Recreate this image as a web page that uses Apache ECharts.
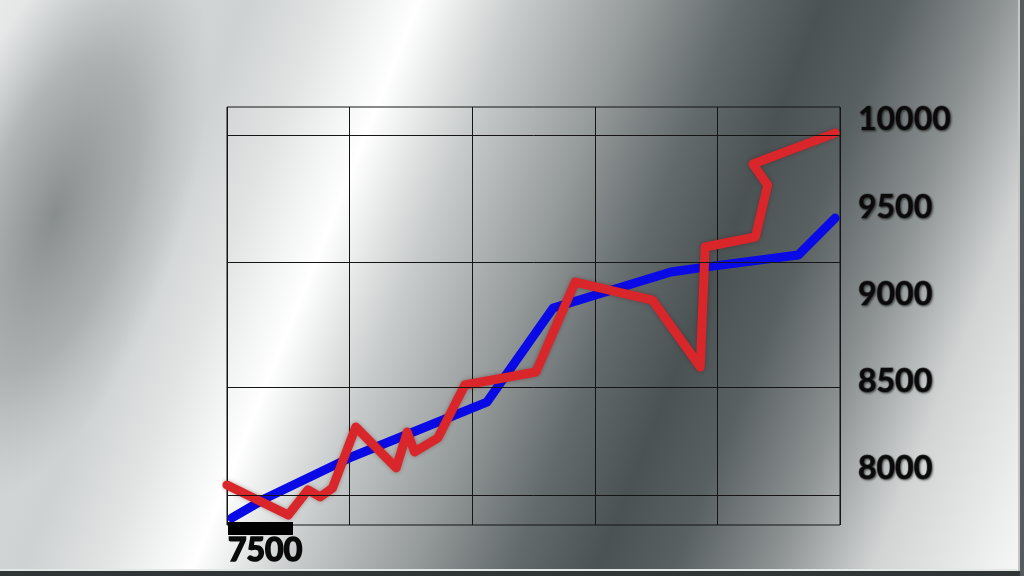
<!DOCTYPE html>
<html>
<head>
<meta charset="utf-8">
<script src="https://cdn.jsdelivr.net/npm/echarts@6/dist/echarts.min.js"></script>
<style>
  html, body { margin: 0; padding: 0; }
  #chart { width: 1024px; height: 576px; }
</style>
</head>
<body>
<div id="chart"></div>
<script>
// ---- data ----
const blueX = [0.2, 1.6, 5.1, 8.5, 10.6, 13.3, 18.1, 19.5, 23.3, 24.8];
const blueY = [7686, 7802, 8042, 8238, 8360, 8907, 9116, 9145, 9215, 9430];

const redX = [0, 2.5, 3.3, 3.8, 4.3, 5.25, 6.9, 7.35, 7.65, 8.6, 9.7, 12.6, 14.2, 17.35, 19.3, 19.5, 21.55, 22.05, 21.45, 24.8];
const redY = [7878, 7703, 7849, 7808, 7860, 8215, 7977, 8186, 8070, 8151, 8459, 8535, 9058, 8953, 8564, 9262, 9320, 9622, 9744, 9924];

const tickLabels = ['7500', '8000', '8500', '9000', '9500', '10000'];
const tickValues = [7500, 8000, 8500, 9000, 9500, 10000];
const gridLevels = [7820, 8448, 9174, 9913];

const X_MIN = 0, X_MAX = 25, X_STEP = 5;
const Y_MIN = 7645, Y_MAX = 10076;

// ---- chart ----
const chart = echarts.init(document.getElementById('chart'));
const zip = (xs, ys) => xs.map((x, i) => [x, ys[i]]);

const bg = {
  type: 'linear', x: 0, y: 0, x2: 1081, y2: 432, global: true,
  colorStops: [
    { offset: 0.000, color: '#e8eaea' },
    { offset: 0.120, color: '#d4d7d7' },
    { offset: 0.200, color: '#cfd2d2' },
    { offset: 0.263, color: '#e2e4e4' },
    { offset: 0.335, color: '#ffffff' },
    { offset: 0.415, color: '#c8cbcb' },
    { offset: 0.510, color: '#959a9a' },
    { offset: 0.590, color: '#636a6c' },
    { offset: 0.658, color: '#4a5254' },
    { offset: 0.718, color: '#596062' },
    { offset: 0.797, color: '#8c9192' },
    { offset: 0.877, color: '#d2d4d4' },
    { offset: 1.000, color: '#f8f8f8' }
  ]
};

const blob = {
  type: 'radial', x: 0.5, y: 0.5, r: 0.5,
  colorStops: [
    { offset: 0, color: 'rgba(128,133,133,0.9)' },
    { offset: 0.55, color: 'rgba(140,145,145,0.55)' },
    { offset: 1, color: 'rgba(160,164,164,0)' }
  ]
};

const FONT = 'Lato, "Liberation Sans", sans-serif';

chart.setOption({
  animation: false,
  graphic: {
    elements: [
      { type: 'rect', z: -100, silent: true, shape: { x: 0, y: 0, width: 1024, height: 576 }, style: { fill: bg } },
      { type: 'circle', z: -99, silent: true, x: 55, y: 215, scaleX: 0.42, scaleY: 1, rotation: -0.33,
        shape: { cx: 0, cy: 0, r: 300 }, style: { fill: blob } },
      { type: 'rect', z: 100, silent: true, shape: { x: 0, y: 569, width: 1024, height: 2 }, style: { fill: '#e4e6e6' } },
      { type: 'rect', z: 100, silent: true, shape: { x: 0, y: 571, width: 1024, height: 5 }, style: { fill: '#303536' } },
      { type: 'rect', z: 100, silent: true, shape: { x: 1018, y: 0, width: 2, height: 571 }, style: { fill: '#c4c6c6' } },
      { type: 'rect', z: 100, silent: true, shape: { x: 1020, y: 0, width: 4, height: 576 }, style: { fill: '#565b5d' } },
      { type: 'rect', z: 50, silent: true, shape: { x: 228, y: 522, width: 65, height: 13 }, style: { fill: '#000' } },
      {
        type: 'text', z: 50, silent: true, x: 228, y: 551,
        style: { text: tickLabels[0], verticalAlign: 'middle', align: 'left',
          fill: '#0a0a0a', stroke: '#0a0a0a', lineWidth: 1.6,
          fontFamily: FONT, fontSize: 32, fontWeight: 'bold' }
      }
    ]
  },
  grid: [
    { left: 227, top: 107, width: 613, height: 418, show: true, borderColor: '#151515', borderWidth: 1, backgroundColor: 'transparent' },
    { left: 227, top: 120, width: 613, height: 436, show: false }
  ],
  xAxis: [
    { gridIndex: 0, type: 'value', min: X_MIN, max: X_MAX, interval: X_STEP,
      axisLine: { show: false }, axisTick: { show: false }, axisLabel: { show: false },
      splitLine: { show: true, lineStyle: { color: '#151515', width: 1 } } },
    { gridIndex: 1, type: 'value', min: X_MIN, max: X_MAX, show: false }
  ],
  yAxis: [
    { gridIndex: 0, type: 'value', min: Y_MIN, max: Y_MAX,
      axisLine: { show: false }, axisTick: { show: false }, axisLabel: { show: false },
      splitLine: { show: false } },
    { gridIndex: 1, type: 'value', position: 'right', min: tickValues[0], max: tickValues[tickValues.length - 1], interval: 500,
      axisLine: { show: false }, axisTick: { show: false }, splitLine: { show: false },
      axisLabel: {
        show: true, showMinLabel: false, margin: 18,
        fontFamily: FONT, fontSize: 32, fontWeight: 'bold',
        color: '#0a0a0a', textBorderColor: '#505050', textBorderWidth: 1.2,
        textShadowColor: 'rgba(0,0,0,0.45)', textShadowBlur: 2, textShadowOffsetX: 1, textShadowOffsetY: 1,
        formatter: v => { const i = tickValues.indexOf(v); return i >= 0 ? tickLabels[i] : ''; }
      } }
  ],
  series: [
    {
      type: 'line', xAxisIndex: 0, yAxisIndex: 0, z: 1, silent: true,
      data: [], symbol: 'none',
      markLine: {
        silent: true, symbol: ['none', 'none'], label: { show: false },
        lineStyle: { color: '#151515', width: 1, type: 'solid' },
        data: gridLevels.map(v => ({ yAxis: v }))
      }
    },
    {
      name: 'blue', type: 'line', xAxisIndex: 0, yAxisIndex: 0, z: 3,
      data: zip(blueX, blueY), symbol: 'none', showSymbol: false,
      lineStyle: { color: '#0a0ae6', width: 9, cap: 'round', join: 'round' }
    },
    {
      name: 'red', type: 'line', xAxisIndex: 0, yAxisIndex: 0, z: 4,
      data: zip(redX, redY), symbol: 'none', showSymbol: false,
      lineStyle: { color: '#d8262b', width: 9, cap: 'round', join: 'round',
        shadowColor: 'rgba(80,0,0,0.35)', shadowBlur: 4 }
    }
  ]
});
</script>
</body>
</html>
